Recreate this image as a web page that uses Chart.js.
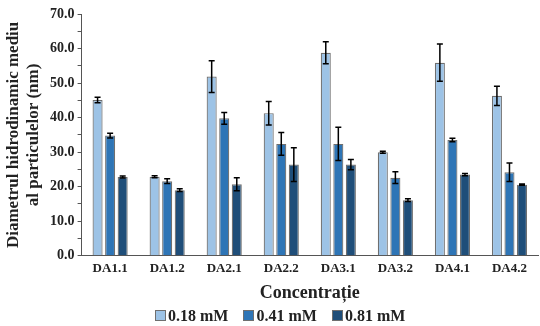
<!DOCTYPE html>
<html lang="ro">
<head>
<meta charset="utf-8">
<title>Diametrul hidrodinamic</title>
<script src="https://cdn.jsdelivr.net/npm/chart.js"></script>
<style>
  html, body { margin: 0; padding: 0; background: #fff; }
  #wrap { position: relative; width: 540px; height: 326px; }
  #legenda {
    position: absolute; left: 155px; top: 306px;
    display: flex; gap: 15px;
    font: bold 16px 'Liberation Serif', 'Times New Roman', serif;
    color: #222; line-height: 20px; white-space: nowrap;
  }
  #legenda span.box {
    display: inline-block; width: 9px; height: 9px;
    border: 1px solid #6f6f6f; margin-right: 2px; vertical-align: -0px;
  }
</style>
</head>
<body>
<div id="wrap">
  <canvas id="chart"></canvas>
  <div id="legenda"></div>
</div>
<script>
// categorii si serii
const categorii = ['DA1.1', 'DA1.2', 'DA2.1', 'DA2.2', 'DA3.1', 'DA3.2', 'DA4.1', 'DA4.2'];
const serii = ['0.18 mM', '0.41 mM', '0.81 mM'];
const val018 = [45.1, 22.9, 51.9, 41.3, 58.8, 30.0, 55.9, 46.3];
const val041 = [34.8, 21.6, 39.8, 32.4, 32.4, 22.6, 33.5, 24.2];
const val081 = [22.8, 19.0, 20.7, 26.4, 26.4, 16.1, 23.5, 20.6];
const err018 = [0.8, 0.3, 4.6, 3.4, 3.2, 0.3, 5.4, 2.8];
const err041 = [0.7, 0.7, 1.7, 3.3, 4.8, 1.7, 0.5, 2.7];
const err081 = [0.3, 0.4, 1.9, 4.9, 1.5, 0.4, 0.3, 0.2];
const culori = ['#9dc3e6', '#2e75b6', '#1f4e79'];

const FONT = "'Liberation Serif', 'Times New Roman', serif";

// bare de eroare
const errorBars = {
    id: 'errorBars',
    afterDatasetsDraw(chart) {
        const ctx = chart.ctx;
        const y = chart.scales.y;
        ctx.save();
        ctx.strokeStyle = '#000';
        ctx.lineWidth = 1.5;
        chart.data.datasets.forEach((ds, di) => {
            const meta = chart.getDatasetMeta(di);
            meta.data.forEach((bar, i) => {
                const v = ds.data[i], e = ds.err[i];
                const top = y.getPixelForValue(v + e);
                const bot = y.getPixelForValue(v - e);
                ctx.beginPath();
                ctx.moveTo(bar.x, top); ctx.lineTo(bar.x, bot);
                ctx.moveTo(bar.x - 3, top); ctx.lineTo(bar.x + 3, top);
                ctx.moveTo(bar.x - 3, bot); ctx.lineTo(bar.x + 3, bot);
                ctx.stroke();
            });
        });
        ctx.restore();
    }
};

const date = [val018, val041, val081];
const erori = [err018, err041, err081];

const chart = new Chart(document.getElementById('chart'), {
    type: 'bar',
    data: {
        labels: categorii,
        datasets: serii.map((s, k) => ({
            label: s,
            data: date[k],
            err: erori[k],
            backgroundColor: culori[k],
            borderColor: '#6f6f6f',
            borderWidth: 1.2,
            categoryPercentage: 0.66,
            barPercentage: 0.8
        }))
    },
    options: {
        responsive: true,
        maintainAspectRatio: false,
        animation: false,
        layout: { padding: { top: 14, right: 2, left: 4, bottom: 22 } },
        plugins: {
            legend: { display: false },
            tooltip: { enabled: false }
        },
        scales: {
            x: {
                grid: { display: false, drawTicks: false },
                border: { color: '#555', width: 1 },
                ticks: {
                    color: '#222',
                    padding: 5,
                    font: { family: FONT, size: 13, weight: 'bold' }
                },
                title: {
                    display: true,
                    text: 'Concentrație',
                    color: '#222',
                    padding: { top: 1, bottom: 0 },
                    font: { family: FONT, size: 18, weight: 'bold' }
                }
            },
            y: {
                min: 0,
                max: 70,
                grid: {
                    drawOnChartArea: false,
                    drawTicks: true,
                    tickLength: 4,
                    color: '#555'
                },
                border: { color: '#555', width: 1 },
                ticks: {
                    stepSize: 5,
                    autoSkip: false,
                    padding: 3,
                    color: '#222',
                    font: { family: FONT, size: 14, weight: 'bold' },
                    callback: (v) => (v % 10 === 0 ? v.toFixed(1) : '')
                },
                title: {
                    display: true,
                    text: ['Diametrul hidrodinamic mediu', 'al particulelor (nm)'],
                    color: '#222',
                    padding: { top: 0, bottom: 4 },
                    font: { family: FONT, size: 17, weight: 'bold', lineHeight: 1.15 }
                }
            }
        }
    },
    plugins: [errorBars]
});

// legenda in HTML, din seriile graficului
const leg = document.getElementById('legenda');
chart.data.datasets.forEach((ds) => {
    const item = document.createElement('div');
    item.innerHTML = '<span class="box" style="background:' + ds.backgroundColor + '"></span>' + ds.label;
    leg.appendChild(item);
});
</script>
</body>
</html>
